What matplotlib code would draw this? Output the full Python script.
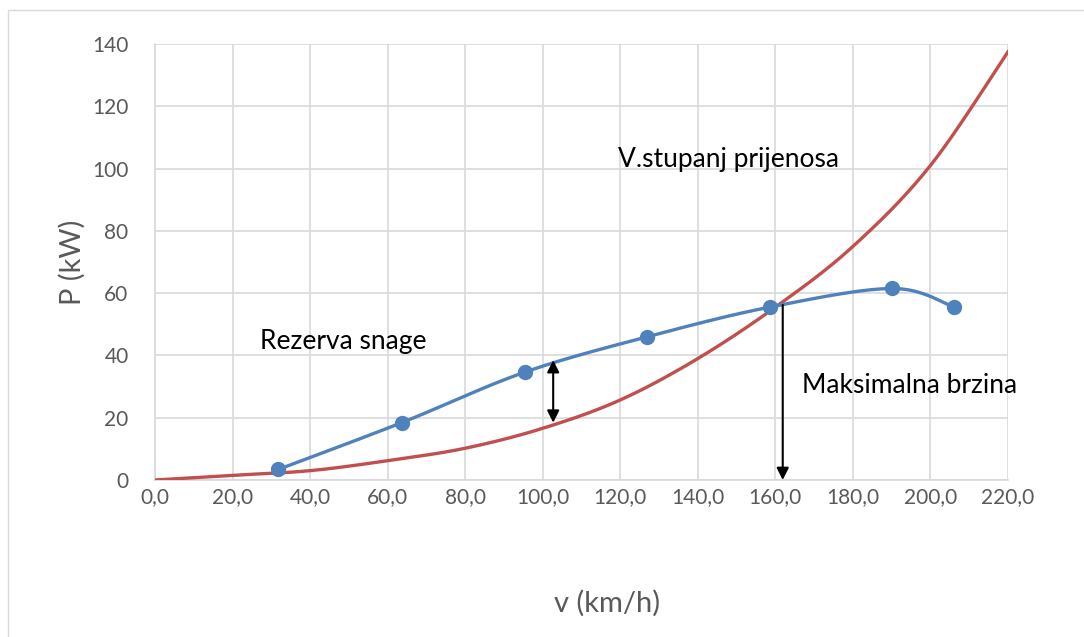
import numpy as np
import matplotlib
matplotlib.use("Agg")
import matplotlib.pyplot as plt
from matplotlib.patches import Rectangle

plt.rcParams['font.family'] = ['Lato', 'DejaVu Sans']

# blue: available power at wheels (5th gear)
v_pts = [31.8, 63.6, 95.3, 127.0, 158.5, 190.2, 206.1]
p_pts = [3.4, 18.4, 34.6, 46.0, 55.5, 61.5, 55.5]

# red: resistance power curve, read every 20 km/h
v_res = [0, 20, 40, 60, 80, 100, 120, 140, 160, 180, 200, 220]
p_res = [0, 1.5, 3.0, 6.2, 10.2, 16.6, 25.7, 39.0, 55.5, 75.0, 101.0, 137.5]

x_ticks = [0, 20, 40, 60, 80, 100, 120, 140, 160, 180, 200, 220]
y_ticks = [0, 20, 40, 60, 80, 100, 120, 140]


def smooth(xs, ys, n=40):
    # excel-style smoothing (catmull-rom bezier)
    x = np.asarray(xs, float) / 220.0
    y = np.asarray(ys, float) / 140.0 * 0.55
    P = np.column_stack([x, y])
    P = np.vstack([P[0], P, P[-1]])
    out = []
    t = np.linspace(0, 1, n)[:, None]
    for i in range(1, len(P) - 2):
        p0, p1, p2, p3 = P[i - 1], P[i], P[i + 1], P[i + 2]
        c1 = p1 + (p2 - p0) / 6
        c2 = p2 - (p3 - p1) / 6
        seg = ((1 - t) ** 3) * p1 + 3 * ((1 - t) ** 2) * t * c1 + 3 * (1 - t) * t ** 2 * c2 + t ** 3 * p2
        out.append(seg)
    out = np.vstack(out)
    return out[:, 0] * 220.0, out[:, 1] / 0.55 * 140.0


fig = plt.figure(figsize=(10.84, 6.37), dpi=100)
fig.patches.append(Rectangle((8 / 1084, -0.1), 1.2, 1 - 10 / 637 + 0.1, transform=fig.transFigure,
                             fill=False, edgecolor='#d9d9d9', linewidth=1.0))
ax = fig.add_axes([155 / 1084, 1 - 480 / 637, 853 / 1084, 436 / 637])

rx, ry = smooth(v_res, p_res)
ax.plot(rx, ry, color='#c0504d', linewidth=2.4, zorder=3)
bx, by = smooth(v_pts, p_pts)
ax.plot(bx, by, color='#4f81bd', linewidth=2.4, zorder=4)
ax.plot(v_pts, p_pts, 'o', color='#4f81bd', markersize=10, zorder=5)

# arrows
ax.annotate('', xy=(102.7, 38.5), xytext=(102.7, 18.4),
            arrowprops=dict(arrowstyle='<|-|>', color='black', lw=1.5, mutation_scale=18,
                            shrinkA=0, shrinkB=0), zorder=6)
ax.annotate('', xy=(161.9, 0), xytext=(161.9, 56.2),
            arrowprops=dict(arrowstyle='-|>', color='black', lw=1.5, mutation_scale=18,
                            shrinkA=0, shrinkB=0), zorder=6)

ax.text(27.1, 44.4, 'Rezerva snage', fontsize=19, va='center', ha='left', color='black')
ax.text(119.5, 103, 'V.stupanj prijenosa', fontsize=19, va='center', ha='left', color='black')
ax.text(166.8, 30.2, 'Maksimalna brzina', fontsize=19, va='center', ha='left', color='black')

ax.set_xlim(0, 220)
ax.set_ylim(0, 140)
ax.set_xticks(x_ticks)
ax.set_xticklabels([f"{t:.1f}".replace('.', ',') for t in x_ticks])
ax.set_yticks(y_ticks)
ax.tick_params(length=0, labelsize=15, labelcolor='#595959')
ax.tick_params(axis='x', pad=5)
ax.tick_params(axis='y', pad=19)
ax.grid(True, color='#d9d9d9', linewidth=1.2)
ax.set_axisbelow(True)
for s in ['top', 'right']:
    ax.spines[s].set_visible(False)
for s in ['left', 'bottom']:
    ax.spines[s].set_color('#d9d9d9')
    ax.spines[s].set_linewidth(1.2)

fig.text(72 / 1084, 1 - 262 / 637, 'P (kW)', fontsize=21, color='#595959',
         rotation=90, ha='center', va='center')
fig.text(607 / 1084, 1 - 603 / 637, 'v (km/h)', fontsize=21, color='#595959',
         ha='center', va='center')

fig.savefig('out.png', dpi=100)
